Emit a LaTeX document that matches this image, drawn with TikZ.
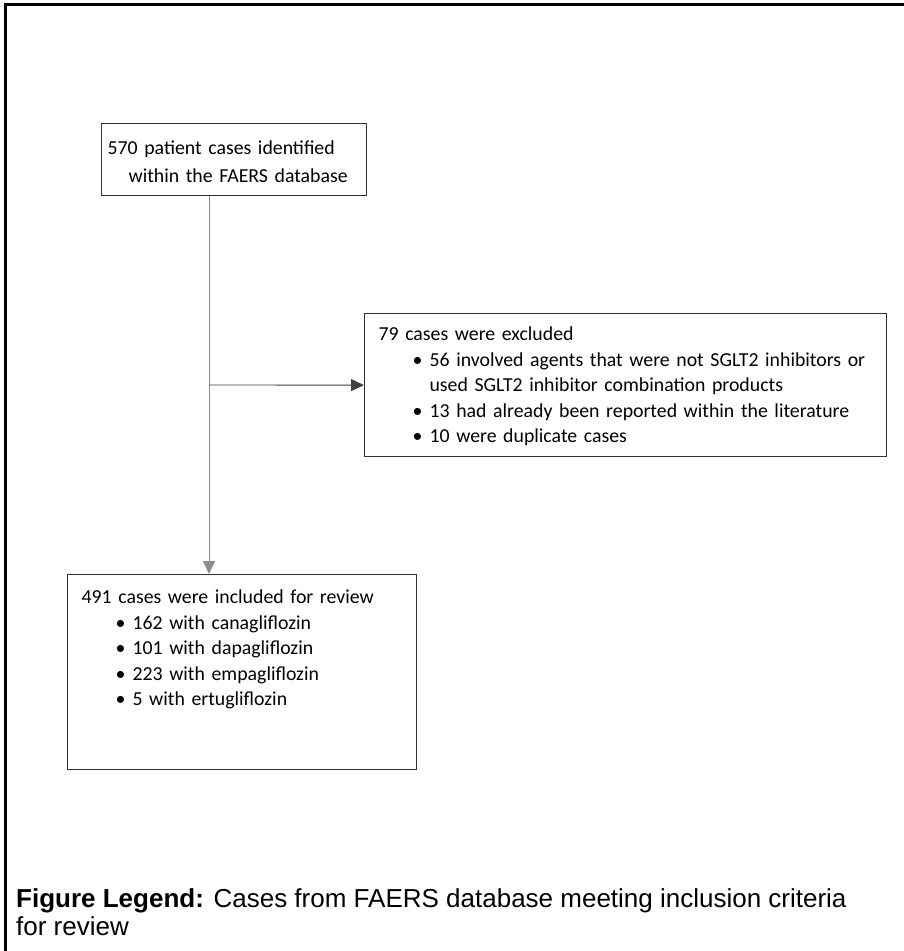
\documentclass[tikz,border=0pt]{standalone}
\usepackage{fontspec}
\setmainfont{Carlito}
\newfontfamily\legendfont{Liberation Sans}
\usetikzlibrary{arrows.meta}

\begin{document}
\begin{tikzpicture}[x=1pt,y=-1pt,
    flowbox/.style={draw=black!80, line width=1.2pt, anchor=north west, align=left,
        inner ysep=0pt, font=\fontsize{19.8}{25.5}\selectfont},
    flowline/.style={draw=black!45, line width=0.9pt}]
    \useasboundingbox (0,0) rectangle (904,951);
    \draw[line width=3pt] (5,951) -- (5,4) -- (904,4);

    \node[flowbox, inner xsep=6pt, text width=253pt, text height=31pt, text depth=41pt,
        font=\fontsize{19.8}{28}\selectfont]
        (found) at (101,123) {570 patient cases identified\\\hspace*{21pt}within the FAERS database};

    \node[flowbox, inner xsep=14pt, text width=494pt, text height=27pt, text depth=116pt]
        (excluded) at (364,313) {79 cases were excluded\\
        \hspace*{34pt}\makebox[17pt][l]{•}56 involved agents that were not SGLT2 inhibitors or\\
        \hspace*{51pt}used SGLT2 inhibitor combination products\\
        \hspace*{34pt}\makebox[17pt][l]{•}13 had already been reported within the literature\\
        \hspace*{34pt}\makebox[17pt][l]{•}10 were duplicate cases};

    \node[flowbox, inner xsep=14pt, text width=321pt, text height=29pt, text depth=166pt]
        (included) at (67,574) {491 cases were included for review\\
        \hspace*{34pt}\makebox[17pt][l]{•}162 with canagliflozin\\
        \hspace*{34pt}\makebox[17pt][l]{•}101 with dapagliflozin\\
        \hspace*{34pt}\makebox[17pt][l]{•}223 with empagliflozin\\
        \hspace*{34pt}\makebox[17pt][l]{•}5 with ertugliflozin};

    \coordinate (split) at (209,385);
    \draw[flowline, -{Triangle[length=13pt, width=12pt]}] (found.south -| split) -- (included.north -| split);
    \draw[flowline, draw=black!75, -{Triangle[length=13pt, width=12pt]}] (split) -- (excluded.west);

    \node[anchor=north west, align=left, inner sep=0pt, font=\legendfont\fontsize{26}{28.5}\selectfont]
        (legend) at (16,888) {\textbf{Figure Legend:} Cases from FAERS database meeting inclusion criteria\\for review};
\end{tikzpicture}
\end{document}
